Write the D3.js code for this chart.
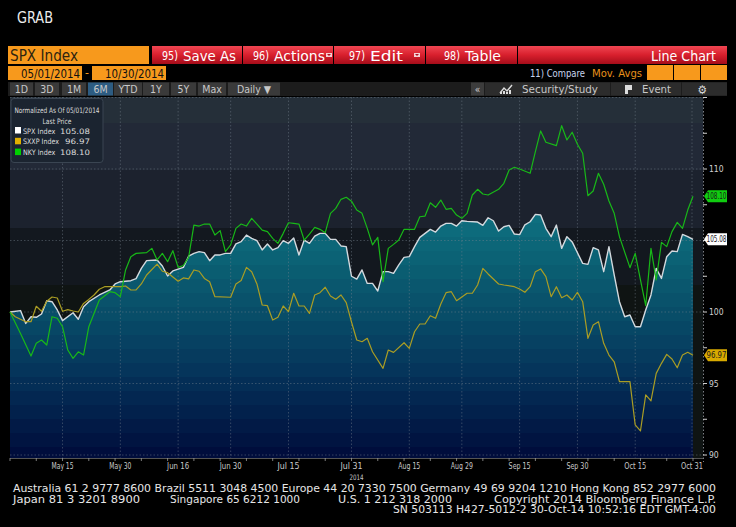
<!DOCTYPE html>
<html>
<head>
<meta charset="utf-8">
<script src="https://cdn.jsdelivr.net/npm/d3@7"></script>
<style>
  html, body { margin: 0; padding: 0; background: #000; }
  svg { display: block; }
  text { font-family: "DejaVu Sans Condensed", "DejaVu Sans", sans-serif; }
</style>
</head>
<body>
<svg id="chart" width="736" height="527"></svg>
<script>
// Weekday offset from 05/01/2014, normalized value
const spx = [
  [0,100.0],[2,100.1],[3,99.2],[4,99.67],[5,99.63],[6,99.86],[7,100.79],[8,100.72],[9,100.14],[10,99.4],
  [12,99.95],[13,99.49],[14,100.37],[15,100.72],[17,101.19],[19,101.54],[20,101.96],[21,102.12],[23,102.19],[24,102.33],
  [25,103.05],[26,103.59],[28,103.64],[29,103.22],[30,102.52],[31,102.87],[33,103.12],[34,103.9],[35,104.1],[36,104.22],
  [37,104.15],[38,103.59],[39,103.99],[40,103.99],[41,104.1],[42,104.1],[43,104.76],[44,104.92],[45,105.38],[46,105.15],
  [47,104.99],[48,104.34],[49,104.76],[50,104.34],[51,104.5],[52,104.99],[53,104.8],[54,105.17],[55,103.99],[56,105.03],
  [57,104.8],[58,105.3],[59,105.5],[60,105.5],[61,105.08],[62,105.08],[63,104.62],[64,104.57],[65,102.5],[66,102.3],
  [67,102.94],[68,102.0],[69,102.0],[70,101.47],[71,102.82],[72,102.82],[73,102.7],[74,103.29],[75,103.82],[76,103.87],
  [77,104.57],[78,105.22],[79,105.5],[80,105.78],[81,105.59],[82,106.01],[83,106.2],[84,106.2],[85,106.01],[86,106.38],
  [87,106.34],[89,106.29],[90,106.06],[91,106.59],[92,106.38],[93,105.66],[94,105.96],[95,106.06],[96,105.45],[97,105.41],
  [98,106.1],[99,106.31],[100,106.83],[101,106.78],[102,105.85],[103,105.27],[104,106.08],[105,104.45],[106,105.27],[107,104.9],
  [109,103.4],[110,103.33],[111,104.5],[112,104.34],[113,102.82],[114,104.57],[115,102.59],[116,100.72],[117,99.67],[118,99.79],
  [119,98.97],[120,98.97],[121,100.14],[122,101.19],[123,103.05],[124,102.35],[125,103.87],[126,104.27],[127,104.22],[128,105.43],
  [129,105.27],[130,105.08]
];

const sxxp = [
  [0,100.0],[1,99.67],[3,99.32],[4,99.32],[5,100.4],[6,100.05],[7,100.75],[8,101.05],[9,100.98],[10,100.05],
  [11,100.17],[12,100.07],[13,100.0],[14,100.6],[15,100.88],[16,101.19],[17,101.59],[18,101.77],[20,101.77],[21,101.77],
  [22,101.82],[23,101.54],[24,101.54],[25,101.96],[26,102.59],[28,103.35],[29,102.85],[30,102.75],[32,102.15],[33,102.38],
  [34,102.32],[35,102.94],[36,102.85],[37,102.35],[38,102.12],[39,101.07],[42,101.03],[43,101.96],[44,102.2],[45,103.12],
  [46,102.82],[47,101.96],[48,100.49],[49,100.44],[50,99.44],[51,99.63],[52,100.42],[53,100.02],[54,101.31],[55,100.42],
  [56,100.42],[57,99.9],[58,101.19],[59,101.35],[60,101.73],[61,101.12],[62,100.89],[63,101.19],[64,100.65],[65,99.3],
  [66,98.04],[67,97.92],[68,98.16],[69,97.22],[71,96.06],[72,97.34],[73,97.18],[75,97.85],[76,97.46],[77,98.62],
  [78,99.16],[79,99.16],[80,99.74],[81,99.56],[82,100.56],[83,101.35],[84,101.42],[85,100.79],[87,101.31],[88,101.31],
  [89,101.89],[90,103.05],[91,102.66],[93,101.96],[94,101.89],[96,101.77],[97,101.61],[98,101.38],[99,101.77],[100,102.82],
  [101,103.01],[102,102.47],[103,101.07],[104,101.77],[105,101.0],[106,101.19],[107,100.84],[108,101.38],[109,100.72],[110,98.16],
  [111,99.09],[112,99.32],[113,97.81],[114,96.99],[115,96.52],[116,95.13],[118,95.13],[119,92.1],[120,91.68],[121,94.2],
  [122,93.78],[123,95.71],[124,96.41],[125,97.04],[126,96.71],[127,96.1],[128,96.99],[129,97.18],[130,96.97]
];

const nky = [
  [0,100.0],[2,98.5],[4,96.92],[5,97.81],[6,98.04],[7,97.69],[8,99.67],[9,99.56],[10,98.97],[11,97.34],
  [12,96.76],[13,97.22],[14,96.99],[15,98.97],[17,100.84],[19,101.42],[20,101.35],[21,101.07],[22,102.94],[23,103.87],
  [24,104.1],[26,104.15],[27,104.45],[28,103.64],[29,104.1],[30,103.52],[31,104.29],[32,103.12],[33,103.25],[34,103.82],
  [35,106.08],[36,106.01],[37,106.15],[38,106.15],[39,105.38],[40,105.69],[41,104.22],[42,104.69],[43,105.85],[44,106.15],
  [45,106.01],[46,106.55],[47,106.15],[48,105.73],[49,105.62],[50,105.15],[51,104.8],[52,105.5],[53,106.24],[54,106.2],
  [55,106.15],[56,105.03],[57,105.45],[58,105.92],[59,105.78],[60,105.55],[61,106.9],[62,107.25],[63,107.88],[64,108.02],
  [65,107.75],[66,107.13],[67,106.9],[68,105.85],[69,104.69],[70,105.22],[71,102.12],[72,104.45],[73,104.73],[74,105.03],
  [75,105.78],[77,105.78],[78,106.66],[79,106.71],[80,107.64],[81,107.32],[82,107.83],[83,107.18],[84,107.25],[85,106.78],
  [86,106.55],[87,106.9],[88,108.18],[89,108.58],[90,108.25],[91,108.18],[93,108.58],[94,109.0],[95,109.93],[96,110.12],
  [97,110.0],[99,109.7],[100,111.21],[101,112.66],[102,111.87],[104,111.63],[105,113.03],[106,112.03],[107,112.57],[108,111.73],
  [109,111.1],[110,108.13],[111,108.46],[112,109.7],[113,108.93],[114,107.76],[115,106.9],[116,105.27],[118,103.1],[119,104.1],
  [120,102.24],[121,100.44],[122,104.45],[123,102.24],[124,104.87],[125,104.57],[126,105.62],[127,106.27],[128,105.85],[129,107.13],
  [130,108.1]
];

const seriesNames = ['SPX Index', 'SXXP Index', 'NKY Index'];
const lastPrices = ['105.08', '96.97', '108.10'];

const tickDays = [10, 21, 32, 42, 53, 65, 76, 86, 97, 108, 119, 131];
const tickLabels = ['May 15', 'May 30', 'Jun 16', 'Jun 30', 'Jul 15', 'Jul 31', 'Aug 15', 'Aug 29', 'Sep 15', 'Sep 30', 'Oct 15', 'Oct 31'];
const yGridValues = [90, 95, 100, 105, 110, 115];
const yLabelValues = [90, 95, 100, 110];   // 105 sits under the SPX tag
const yTickValues = [90, 92.5, 95, 97.5, 100, 102.5, 105, 107.5, 110, 112.5, 115];

const periodButtons = ['1D', '3D', '1M', '6M', 'YTD', '1Y', '5Y', 'Max', 'Daily ▼'];
const menuButtons = ['95)', '96)', '97)', '98)'];
const menuLabels = ['Save As', 'Actions', 'Edit', 'Table'];

const footer1 = 'Australia 61 2 9777 8600 Brazil 5511 3048 4500 Europe 44 20 7330 7500 Germany 49 69 9204 1210 Hong Kong 852 2977 6000';
const footer2 = ['Japan 81 3 3201 8900', 'Singapore 65 6212 1000', 'U.S. 1 212 318 2000', 'Copyright 2014 Bloomberg Finance L.P.'];
const footer3 = 'SN 503113 H427-5012-2 30-Oct-14 10:52:16 EDT  GMT-4:00';

const svg = d3.select('#chart');
const defs = svg.append('defs');

// Plot geometry
const plot = { left: 10, right: 703, top: 97, bottom: 458 };
const x = d3.scaleLinear().domain([0, 130]).range([10, 693]);
const y = d3.scaleLinear().domain([90, 115]).range([455, 97.5]);

function label(g, px, py, s, o) {
  o = o || {};
  const t = g.append('text')
    .attr('x', px).attr('y', py)
    .attr('font-size', o.size || 11)
    .attr('fill', o.fill || '#fff')
    .attr('text-anchor', o.anchor || 'start')
    .text(s);
  if (o.len) t.attr('textLength', o.len).attr('lengthAdjust', 'spacingAndGlyphs');
  return t;
}

// ---------- header ----------
label(svg, 17, 23, 'GRAB', { size: 16, fill: '#ececec', len: 36 });

const red = defs.append('linearGradient').attr('id', 'redGrad')
  .attr('x1', 0).attr('y1', 0).attr('x2', 0).attr('y2', 1);
red.append('stop').attr('offset', '0%').attr('stop-color', '#f04652');
red.append('stop').attr('offset', '50%').attr('stop-color', '#d81f2d');
red.append('stop').attr('offset', '100%').attr('stop-color', '#a50d1a');

svg.append('rect').attr('x', 8).attr('y', 46).attr('width', 141).attr('height', 18).attr('fill', '#f7991c');
label(svg, 10, 60.5, 'SPX Index', { size: 15, fill: '#2e2410', len: 68 });

const btnX = [152, 243, 334, 426];
const btnW = [90, 90, 91, 91];
const lblX = [183, 274, 370, 465];
const lblLen = [53, 51, 33, 36];
menuButtons.forEach((b, i) => {
  svg.append('rect').attr('x', btnX[i]).attr('y', 46).attr('width', btnW[i]).attr('height', 18).attr('fill', 'url(#redGrad)');
  label(svg, lblX[i] - 21, 60, b, { size: 13, len: 16 });
  label(svg, lblX[i], 60.5, menuLabels[i], { size: 14, len: lblLen[i] });
});
// little dropdown markers
[[326, 55], [414, 55]].forEach(([mx, my]) => {
  svg.append('rect').attr('x', mx).attr('y', my - 2).attr('width', 6).attr('height', 4).attr('fill', '#f4d0d4');
  svg.append('path').attr('d', `M${mx + 1},${my - 1}L${mx + 5},${my - 1}L${mx + 3},${my + 1}Z`).attr('fill', '#b01020');
});
svg.append('rect').attr('x', 518).attr('y', 46).attr('width', 209).attr('height', 18).attr('fill', 'url(#redGrad)');
label(svg, 716, 60.5, 'Line Chart', { size: 14, anchor: 'end', len: 65 });

// date row
svg.append('rect').attr('x', 8).attr('y', 66).attr('width', 74).attr('height', 14).attr('fill', '#f7991c');
svg.append('rect').attr('x', 92).attr('y', 66).attr('width', 74).attr('height', 14).attr('fill', '#f7991c');
label(svg, 21, 77.5, '05/01/2014', { size: 11.5, fill: '#111', len: 59 });
label(svg, 105, 77.5, '10/30/2014', { size: 11.5, fill: '#111', len: 59 });
label(svg, 87, 77, '-', { size: 12, fill: '#f7991c', anchor: 'middle' });
label(svg, 530, 76.5, '11) Compare', { size: 11, fill: '#c8d4ee', len: 55 });
label(svg, 592, 76.5, 'Mov. Avgs', { size: 11, fill: '#e8901a', len: 50 });
[647, 674, 701].forEach(bx => {
  svg.append('rect').attr('x', bx).attr('y', 65).attr('width', 26).attr('height', 15).attr('fill', '#f7991c');
});

// period buttons row
svg.append('rect').attr('x', 8).attr('y', 82).attr('width', 719).attr('height', 14).attr('fill', '#1c1c1c');
const pbX = [10, 35, 62, 88, 114, 143, 171, 198, 228];
const pbW = [23, 24, 24, 25, 28, 26, 25, 28, 52];
periodButtons.forEach((p, i) => {
  svg.append('rect').attr('x', pbX[i]).attr('y', 82.5).attr('width', pbW[i]).attr('height', 13)
    .attr('fill', p === '6M' ? '#2d5c82' : '#3a3a3a');
  label(svg, pbX[i] + pbW[i] / 2, 93, p, { size: 10.5, fill: '#c8c8c8', anchor: 'middle' });
});
svg.append('rect').attr('x', 471).attr('y', 82.5).attr('width', 13).attr('height', 13).attr('fill', '#3c3c3c');
label(svg, 477.5, 92.5, '«', { size: 10, fill: '#d0d0d0', anchor: 'middle' });
[[485, 125], [611, 70], [682, 45]].forEach(([sx, sw]) => {
  svg.append('rect').attr('x', sx).attr('y', 82.5).attr('width', sw).attr('height', 13).attr('fill', '#2c2c2c');
});
// study icon
svg.append('path').attr('d', 'M500,93L504,88L507,91L512,85').attr('fill', 'none').attr('stroke', '#ddd').attr('stroke-width', 1.4);
[[500, 2], [503, 3], [506, 2], [509, 4]].forEach(([bx, bh]) => {
  svg.append('rect').attr('x', bx).attr('y', 94 - bh).attr('width', 2).attr('height', bh).attr('fill', '#ddd');
});
label(svg, 522, 93, 'Security/Study', { size: 11, fill: '#c8c8c8', len: 76 });
svg.append('path').attr('d', 'M625,85L632,85L632,90L628,90L628,94L625,94Z').attr('fill', '#ddd');
label(svg, 642, 93, 'Event', { size: 11, fill: '#c8c8c8', len: 29 });
label(svg, 702, 93.5, '⚙', { size: 12, fill: '#d8d8d8', anchor: 'middle' });

// ---------- plot background ----------
const bgBands = [[97, 123, '#252f39'], [123, 170, '#222937'], [170, 228, '#1c222e'], [228, 285, '#13181f'], [285, 458, '#0f1413']];
bgBands.forEach(([y0, y1, c]) => {
  svg.append('rect').attr('x', plot.left).attr('y', y0).attr('width', plot.right - plot.left).attr('height', y1 - y0).attr('fill', c);
});

// banded teal-to-navy fill under the SPX line
const areaGrad = defs.append('linearGradient').attr('id', 'areaGrad')
  .attr('gradientUnits', 'userSpaceOnUse')
  .attr('x1', 0).attr('y1', plot.top).attr('x2', 0).attr('y2', plot.bottom);
const colorAt = d3.scaleLinear()
  .domain([97, 200, 260, 320, 380, 458])
  .range(['#117f8e', '#0f7483', '#0b6174', '#084b67', '#043058', '#000b3a'])
  .interpolate(d3.interpolateRgb);
const bandH = 14;
for (let b = plot.top; b < plot.bottom; b += bandH) {
  const c = colorAt(b + bandH / 2);
  const o0 = (b - plot.top) / (plot.bottom - plot.top);
  const o1 = Math.min(1, (b + bandH - plot.top) / (plot.bottom - plot.top));
  areaGrad.append('stop').attr('offset', o0).attr('stop-color', c);
  areaGrad.append('stop').attr('offset', o1).attr('stop-color', c);
}

const area = d3.area().x(d => x(d[0])).y0(plot.bottom).y1(d => y(d[1]));
svg.append('path').datum(spx).attr('d', area).attr('fill', 'url(#areaGrad)');

// ---------- grid ----------
const tickX = d => Math.min(x(d), 692);
const grid = svg.append('g').attr('stroke', '#7a8590').attr('stroke-opacity', 0.55)
  .attr('stroke-width', 0.8).attr('stroke-dasharray', '1.5,2');
yGridValues.forEach(v => {
  grid.append('line').attr('x1', plot.left).attr('x2', plot.right).attr('y1', y(v)).attr('y2', y(v));
});
tickDays.forEach(d => {
  grid.append('line').attr('x1', tickX(d)).attr('x2', tickX(d)).attr('y1', plot.top).attr('y2', plot.bottom);
});
svg.append('line').attr('x1', plot.right + 0.5).attr('x2', plot.right + 0.5).attr('y1', plot.top).attr('y2', plot.bottom + 4)
  .attr('stroke', '#9aa0a6').attr('stroke-width', 0.8).attr('stroke-dasharray', '1.5,2');

// ---------- series lines ----------
const line = d3.line().x(d => x(d[0])).y(d => y(d[1]));
const colors = ['#d3d9de', '#aa9d24', '#18b818'];
[spx, sxxp, nky].forEach((s, i) => {
  svg.append('path').datum(s).attr('d', line).attr('fill', 'none')
    .attr('stroke', colors[i]).attr('stroke-width', i === 0 ? 1.4 : 1.2).attr('stroke-linejoin', 'round');
});

// ---------- right axis ----------
const ax = svg.append('g');
yTickValues.forEach(v => {
  ax.append('line').attr('x1', plot.right).attr('x2', plot.right + 4).attr('y1', y(v)).attr('y2', y(v))
    .attr('stroke', '#cfcfcf').attr('stroke-width', 1);
});
yLabelValues.forEach(v => {
  label(ax, plot.right + 6, y(v) + 3, String(v), { size: 8.5, fill: '#d0d0d0' });
});

// last price tags
const tagFill = ['#ffffff', '#d8aa00', '#10cc10'];
const lastVals = [spx, sxxp, nky].map(s => s[s.length - 1][1]);
lastVals.forEach((v, i) => {
  const ty = y(v);
  svg.append('path')
    .attr('d', `M${plot.right + 1},${ty}L${plot.right + 5},${ty - 6}L727,${ty - 6}L727,${ty + 6}L${plot.right + 5},${ty + 6}Z`)
    .attr('fill', tagFill[i]);
  label(svg, 716.5, ty + 3, lastPrices[i], { size: 8.5, fill: '#1a1a1a', anchor: 'middle', len: 20 });
});

// ---------- x axis ----------
svg.append('line').attr('x1', plot.left).attr('x2', plot.right).attr('y1', plot.bottom + 0.5).attr('y2', plot.bottom + 0.5)
  .attr('stroke', '#555').attr('stroke-width', 1);
d3.range(0, 131, 5).forEach(d => {
  svg.append('line').attr('x1', x(d)).attr('x2', x(d)).attr('y1', plot.bottom).attr('y2', plot.bottom + 3)
    .attr('stroke', '#9a9a9a').attr('stroke-width', 0.8);
});
tickDays.forEach((d, i) => {
  label(svg, tickX(d), 469, tickLabels[i], { size: 8, fill: '#c8c8c8', anchor: 'middle', len: 22 });
});
label(svg, x(65) + 5, 480, '2014', { size: 7.5, fill: '#c8c8c8', anchor: 'middle', len: 14 });

// ---------- legend ----------
const lg = svg.append('g');
lg.append('rect').attr('x', 11).attr('y', 98.5).attr('width', 92).attr('height', 64).attr('rx', 3)
  .attr('fill', '#1b2430').attr('stroke', '#3a4552').attr('stroke-width', 1);
label(lg, 57, 113, 'Normalized As Of 05/01/2014', { size: 7.5, fill: '#dcdcdc', anchor: 'middle', len: 85 });
label(lg, 57, 123.5, 'Last Price', { size: 7.5, fill: '#dcdcdc', anchor: 'middle', len: 29 });
const swatch = ['#ffffff', '#e0b000', '#00d000'];
seriesNames.forEach((n, i) => {
  const ry = 133.5 + i * 10.8;
  lg.append('rect').attr('x', 15).attr('y', ry - 6.5).attr('width', 6).attr('height', 6.5).attr('fill', swatch[i]);
  label(lg, 23, ry, n, { size: 7.5, fill: '#dcdcdc', len: n.length * 3.6 });
  label(lg, 90, ry, lastPrices[i], { size: 7.5, fill: '#dcdcdc', anchor: 'end', len: lastPrices[i].length * 5 });
});

// ---------- footer ----------
label(svg, 13, 492, footer1, { size: 10, fill: '#e6e6e6', len: 703 });
const f2x = [13, 170, 338, 494];
const f2len = [127, 130, 114, 222];
footer2.forEach((s, i) => label(svg, f2x[i], 502.5, s, { size: 10, fill: '#e6e6e6', len: f2len[i] }));
label(svg, 716, 513, footer3, { size: 10, fill: '#e6e6e6', anchor: 'end', len: 323 });
</script>
</body>
</html>
